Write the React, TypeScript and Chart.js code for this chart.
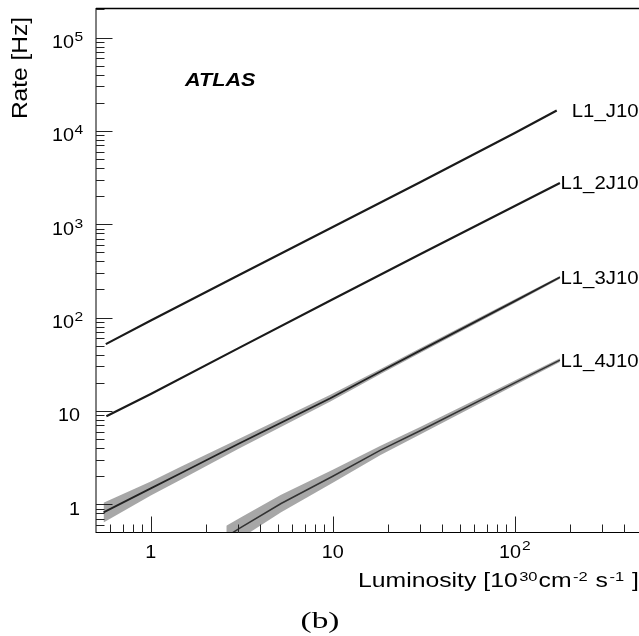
import { useEffect, useRef } from 'react';
import { Chart, registerables } from 'chart.js';

Chart.register(...registerables);

// ---- data ----
const J10_X = [0.566, 1, 3, 10, 30, 100, 170];
const J10_Y = [52, 93, 280, 935, 2800, 9500, 16500];

const J2_X = [0.57, 1, 3, 10, 30, 100, 177];
const J2_Y = [8.8, 15.2, 46.5, 157, 475, 1570, 2760];

const J3_X = [0.55, 1, 1.46, 3, 9.7, 18.3, 30, 100, 177];
const J3_Y = [0.82, 1.48, 2.15, 4.4, 13.7, 26.5, 44, 150, 270];
const J3_LO = [0.64, 1.24, 1.83, 3.9, 12.6, 24.9, 41.5, 143, 261];
const J3_HI = [1.04, 1.76, 2.52, 4.96, 14.9, 28.2, 46.6, 157, 279];

const J4_X = [2.6, 3.1, 5.2, 10, 18.3, 30, 100, 177];
const J4_Y = [0.45, 0.56, 1.02, 2.0, 3.8, 6.1, 20, 35];
const J4_LO = [0.34, 0.43, 0.82, 1.7, 3.38, 5.57, 18.9, 33.4];
const J4_HI = [0.59, 0.72, 1.27, 2.35, 4.25, 6.7, 21.2, 36.6];

const SERIES_NAMES = ['L1_J10', 'L1_2J10', 'L1_3J10', 'L1_4J10'];

const X_TICK_VALUES = [1, 10, 100];
const X_TICK_BASE = ['1', '10', '10'];
const X_TICK_EXP = ['', '', '2'];
const X_MINOR = [0.6, 0.7, 0.8, 0.9, 2, 3, 4, 5, 6, 7, 8, 9, 20, 30, 40, 50, 60, 70, 80, 90, 200, 300, 400];

const Y_TICK_VALUES = [1, 10, 100, 1000, 10000, 100000];
const Y_TICK_BASE = ['1', '10', '10', '10', '10', '10'];
const Y_TICK_EXP = ['', '', '2', '3', '4', '5'];
const Y_MINOR = [
  0.6, 0.7, 0.8, 0.9,
  2, 3, 4, 5, 6, 7, 8, 9,
  20, 30, 40, 50, 60, 70, 80, 90,
  200, 300, 400, 500, 600, 700, 800, 900,
  2000, 3000, 4000, 5000, 6000, 7000, 8000, 9000,
  20000, 30000, 40000, 50000, 60000, 70000, 80000, 90000,
  200000,
];

const SANS = '"Liberation Sans", Arial, Helvetica, sans-serif';
const SERIF = '"Liberation Serif", "Times New Roman", serif';

function pts(xs: number[], ys: number[]) {
  return xs.map((x, i) => ({ x, y: ys[i] }));
}

function drawText(
  ctx: CanvasRenderingContext2D,
  s: string,
  x: number,
  y: number,
  size: number,
  sx: number,
  align: CanvasTextAlign = 'left',
  font: string = SANS,
  prefix = ''
) {
  ctx.save();
  ctx.translate(x, y);
  ctx.scale(sx, 1);
  ctx.font = `${prefix} ${size}px ${font}`;
  ctx.textAlign = align;
  ctx.textBaseline = 'alphabetic';
  ctx.fillStyle = '#000';
  ctx.fillText(s, 0, 0);
  ctx.restore();
}

function textWidth(ctx: CanvasRenderingContext2D, s: string, size: number, sx: number, font = SANS) {
  ctx.save();
  ctx.font = `${size}px ${font}`;
  const w = ctx.measureText(s).width * sx;
  ctx.restore();
  return w;
}

const decorPlugin = {
  id: 'decor',
  afterDraw(chart: any) {
    const { ctx, chartArea: a, scales } = chart;
    const xs = scales.x;
    const ys = scales.y;
    ctx.save();
    // frame
    ctx.strokeStyle = '#000';
    ctx.lineWidth = 1;
    ctx.beginPath();
    ctx.moveTo(a.left, a.top);
    ctx.lineTo(a.left, a.bottom);
    ctx.stroke();
    ctx.beginPath();
    ctx.moveTo(a.left, a.bottom - 0.5);
    ctx.lineTo(a.right, a.bottom - 0.5);
    ctx.stroke();
    ctx.lineWidth = 1.5;
    ctx.beginPath();
    ctx.moveTo(a.left, a.top + 0.5);
    ctx.lineTo(a.right, a.top + 0.5);
    ctx.stroke();

    // inward ticks
    ctx.lineWidth = 1;
    ctx.strokeStyle = '#222';
    const tickX = (v: number, len: number) => {
      const p = Math.round(xs.getPixelForValue(v)) + 0.5;
      ctx.beginPath();
      ctx.moveTo(p, a.bottom);
      ctx.lineTo(p, a.bottom - len);
      ctx.stroke();
    };
    const tickY = (v: number, len: number) => {
      const p = Math.round(ys.getPixelForValue(v)) + 0.5;
      ctx.beginPath();
      ctx.moveTo(a.left, p);
      ctx.lineTo(a.left + len, p);
      ctx.stroke();
    };
    X_TICK_VALUES.forEach((v) => tickX(v, 16.5));
    X_MINOR.forEach((v) => tickX(v, 8.5));
    Y_TICK_VALUES.forEach((v) => tickY(v, 16.5));
    Y_MINOR.forEach((v) => tickY(v, 8.5));
    ctx.restore();

    // y tick labels
    Y_TICK_VALUES.forEach((v, i) => {
      const p = ys.getPixelForValue(v);
      if (Y_TICK_EXP[i]) {
        drawText(ctx, Y_TICK_BASE[i], 74, p + 10.5, 18, 1.1, 'right');
        drawText(ctx, Y_TICK_EXP[i], 74.5, p + 3.5, 13, 1.2, 'left');
      } else {
        drawText(ctx, Y_TICK_BASE[i], 80, p + 10.5, 18, 1.1, 'right');
      }
    });
    // x tick labels
    X_TICK_VALUES.forEach((v, i) => {
      const p = xs.getPixelForValue(v);
      if (X_TICK_EXP[i]) {
        const wb = textWidth(ctx, X_TICK_BASE[i], 18, 1.1);
        const we = textWidth(ctx, X_TICK_EXP[i], 13, 1.2);
        const start = p - (wb + we + 1) / 2;
        drawText(ctx, X_TICK_BASE[i], start, 557.5, 18, 1.1, 'left');
        drawText(ctx, X_TICK_EXP[i], start + wb + 1, 550, 13, 1.2, 'left');
      } else {
        drawText(ctx, X_TICK_BASE[i], p, 557.5, 18, 1.1, 'center');
      }
    });

    // x axis title
    const parts: [string, boolean][] = [
      ['Luminosity [10', false],
      ['30', true],
      ['cm', false],
      ['-2', true],
      [' s', false],
      ['-1', true],
      [' ]', false],
    ];
    const sx = 1.27;
    let cx = 358;
    parts.forEach(([s, sup]) => {
      const size = sup ? 13 : 19.5;
      const yy = sup ? 580.5 : 587;
      const pre = sup ? 1.5 : 0;
      drawText(ctx, s, cx + pre, yy, size, sx, 'left');
      cx += textWidth(ctx, s, size, sx) + pre + (sup ? 1 : 0);
    });

    // y axis title (rotated)
    ctx.save();
    ctx.translate(26.5, 68);
    ctx.rotate(-Math.PI / 2);
    ctx.scale(1.14, 1);
    ctx.font = `21.5px ${SANS}`;
    ctx.textAlign = 'center';
    ctx.textBaseline = 'alphabetic';
    ctx.fillStyle = '#000';
    ctx.fillText('Rate [Hz]', 0, 0);
    ctx.restore();

    // ATLAS
    drawText(ctx, 'ATLAS', 185, 85.7, 18, 1.2, 'left', SANS, 'italic bold');

    // series labels
    const lasts = [J10_Y, J2_Y, J3_Y, J4_Y].map((arr) => arr[arr.length - 1]);
    SERIES_NAMES.forEach((name, i) => {
      const p = ys.getPixelForValue(lasts[i]);
      drawText(ctx, name, 638.5, p + 6.4, 18, 1.13, 'right');
    });

    // (b)
    drawText(ctx, '(b)', 320, 628, 23, 1.45, 'center', SERIF);
  },
};

export default function App() {
  const ref = useRef<HTMLCanvasElement | null>(null);

  useEffect(() => {
    if (!ref.current) return;
    const band = 'rgba(45,45,45,0.42)';
    const chart = new Chart(ref.current, {
      type: 'scatter',
      data: {
        datasets: [
          { label: SERIES_NAMES[0], data: pts(J10_X, J10_Y), showLine: true, borderColor: '#1a1a1a', borderWidth: 2.2, pointRadius: 0 },
          { label: SERIES_NAMES[1], data: pts(J2_X, J2_Y), showLine: true, borderColor: '#1a1a1a', borderWidth: 2.2, pointRadius: 0 },
          { label: SERIES_NAMES[2], data: pts(J3_X, J3_Y), showLine: true, borderColor: '#222', borderWidth: 1.8, pointRadius: 0 },
          { label: SERIES_NAMES[3], data: pts(J4_X, J4_Y), showLine: true, borderColor: '#333', borderWidth: 1.5, pointRadius: 0 },
          { label: '3lo', data: pts(J3_X, J3_LO), showLine: true, borderWidth: 0, borderColor: 'rgba(0,0,0,0)', pointRadius: 0 },
          { label: '3hi', data: pts(J3_X, J3_HI), showLine: true, borderWidth: 0, borderColor: 'rgba(0,0,0,0)', pointRadius: 0, fill: '-1', backgroundColor: band },
          { label: '4lo', data: pts(J4_X, J4_LO), showLine: true, borderWidth: 0, borderColor: 'rgba(0,0,0,0)', pointRadius: 0 },
          { label: '4hi', data: pts(J4_X, J4_HI), showLine: true, borderWidth: 0, borderColor: 'rgba(0,0,0,0)', pointRadius: 0, fill: '-1', backgroundColor: band },
        ],
      },
      options: {
        animation: false,
        responsive: false,
        devicePixelRatio: 1,
        events: [],
        layout: { padding: { top: 8, right: 4, left: 0, bottom: 0 } },
        plugins: { legend: { display: false }, tooltip: { enabled: false } },
        scales: {
          x: {
            type: 'logarithmic',
            min: 0.5,
            max: 500,
            ticks: { display: false },
            grid: { display: false },
            border: { display: false },
            afterFit: (s: any) => { s.height = 103; },
          },
          y: {
            type: 'logarithmic',
            min: 0.493,
            max: 207000,
            ticks: { display: false },
            grid: { display: false },
            border: { display: false },
            afterFit: (s: any) => { s.width = 96; },
          },
        },
      } as any,
      plugins: [decorPlugin],
    });
    return () => chart.destroy();
  }, []);

  return (
    <div style={{ position: 'absolute', left: 0, top: 0, width: 639, height: 636, overflow: 'hidden', background: '#fff' }}>
      <canvas ref={ref} width={646} height={636} style={{ width: 646, height: 636, display: 'block' }} />
    </div>
  );
}
